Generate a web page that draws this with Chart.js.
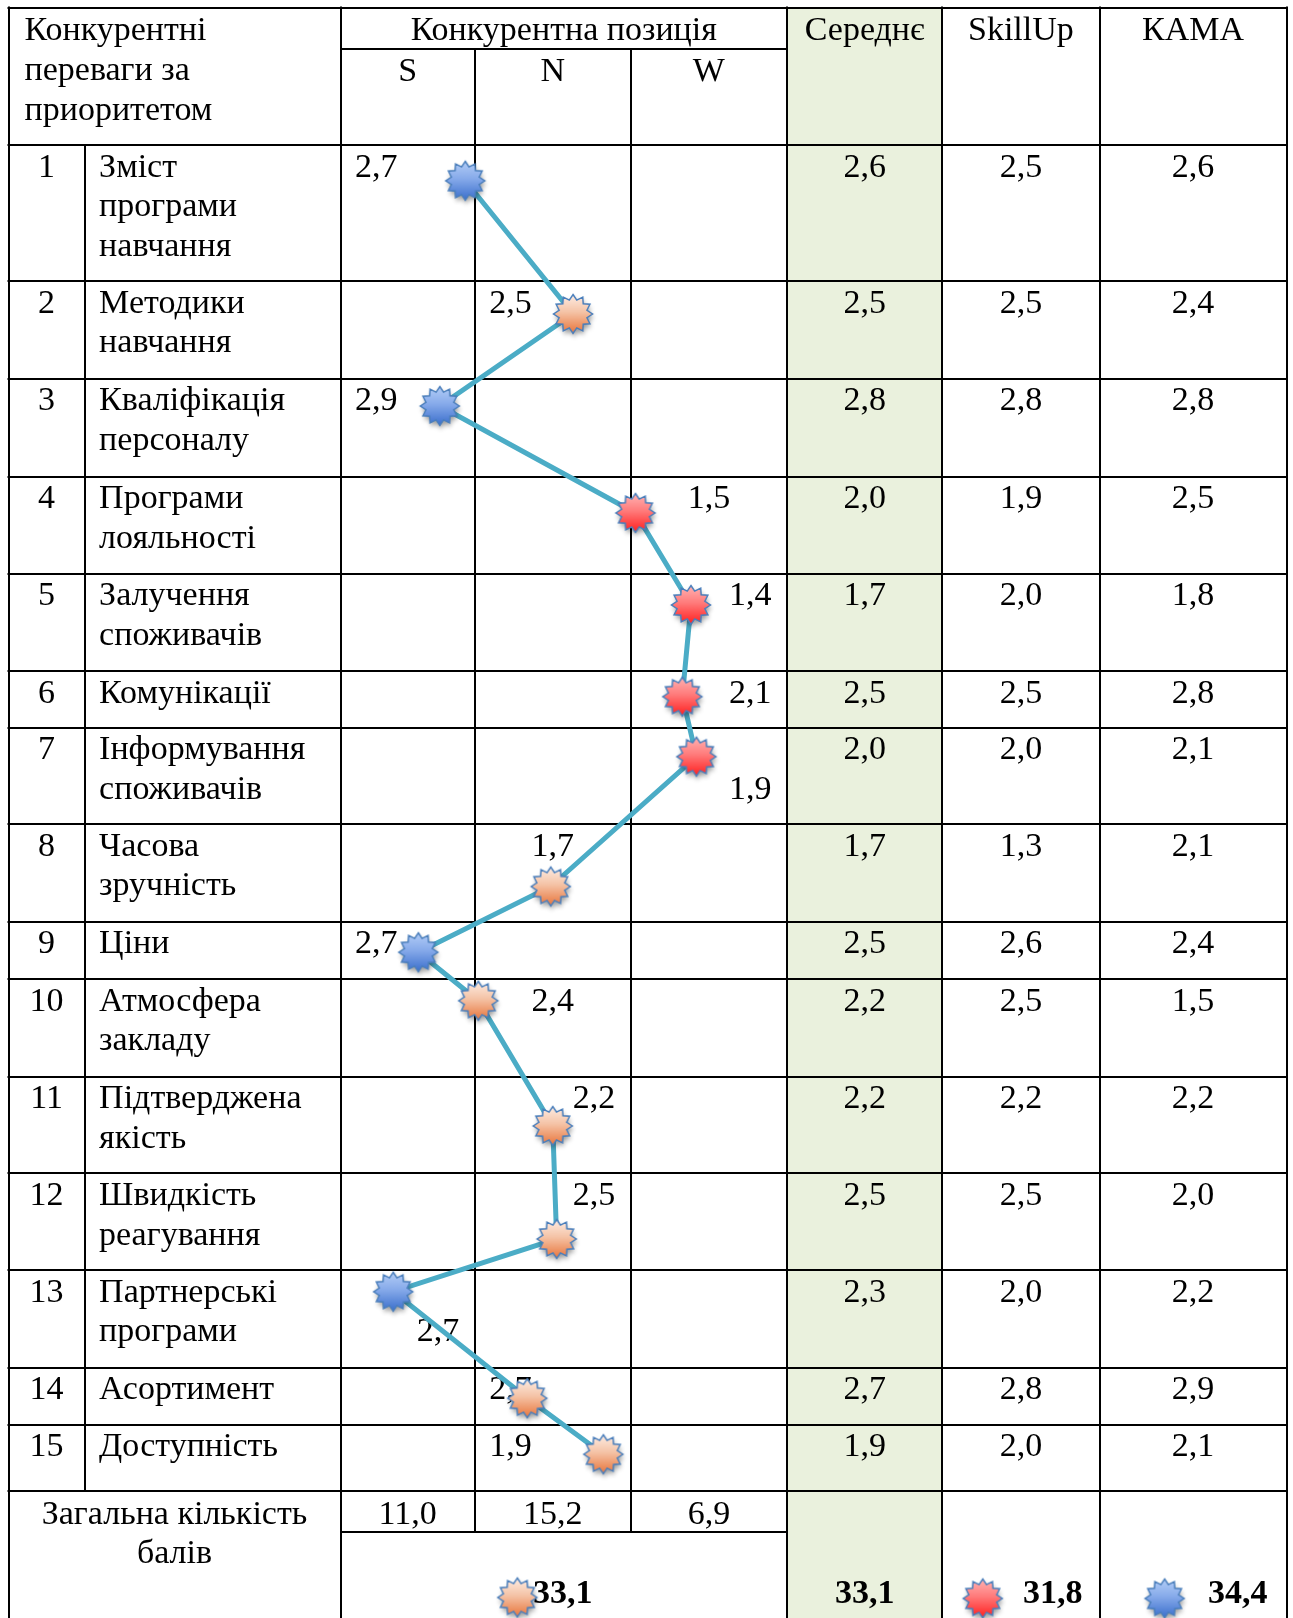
<!DOCTYPE html>
<html lang="uk">
<head>
<meta charset="utf-8">
<title>Конкурентна позиція</title>
<script src="https://cdn.jsdelivr.net/npm/chart.js@4.4.1/dist/chart.umd.min.js"></script>
<style>
  html, body { margin: 0; padding: 0; background: #ffffff; }
  #wrap { width: 1293px; height: 1618px; position: relative; }
  canvas { display: block; }
</style>
</head>
<body>
<div id="wrap"><canvas id="chart" width="1293" height="1618"></canvas></div>
<script>
// ---------- data ----------
const advantages = [
  ['Зміст', 'програми', 'навчання'],
  ['Методики', 'навчання'],
  ['Кваліфікація', 'персоналу'],
  ['Програми', 'лояльності'],
  ['Залучення', 'споживачів'],
  ['Комунікації'],
  ['Інформування', 'споживачів'],
  ['Часова', 'зручність'],
  ['Ціни'],
  ['Атмосфера', 'закладу'],
  ['Підтверджена', 'якість'],
  ['Швидкість', 'реагування'],
  ['Партнерські', 'програми'],
  ['Асортимент'],
  ['Доступність']
];
const zones = ['S', 'N', 'W'];
const positionZone  = ['S', 'N', 'S', 'W', 'W', 'W', 'W', 'N', 'S', 'N', 'N', 'N', 'S', 'N', 'N'];
const positionScore = [2.7, 2.5, 2.9, 1.5, 1.4, 2.1, 1.9, 1.7, 2.7, 2.4, 2.2, 2.5, 2.7, 2.7, 1.9];
const averageScore  = [2.6, 2.5, 2.8, 2.0, 1.7, 2.5, 2.0, 1.7, 2.5, 2.2, 2.2, 2.5, 2.3, 2.7, 1.9];
const skillUpScore  = [2.5, 2.5, 2.8, 1.9, 2.0, 2.5, 2.0, 1.3, 2.6, 2.5, 2.2, 2.5, 2.0, 2.8, 2.0];
const kamaScore     = [2.6, 2.4, 2.8, 2.5, 1.8, 2.8, 2.1, 2.1, 2.4, 1.5, 2.2, 2.0, 2.2, 2.9, 2.1];
const zoneTotals    = [11.0, 15.2, 6.9];
const positionTotal = 33.1;
const averageTotal  = 33.1;
const skillUpTotal  = 31.8;
const kamaTotal     = 34.4;
// where each point sits inside its S/N/W cell (share of cell width / row height)
const pointAcross = [0.93, 0.63, 0.74, 0.03, 0.385, 0.33, 0.42, 0.487, 0.58, 0.023, 0.50, 0.525, 0.393, 0.337, 0.824];
const pointDown   = [0.263, 0.338, 0.281, 0.376, 0.323, 0.453, 0.301, 0.64, 0.534, 0.223, 0.511, 0.679, 0.223, 0.538, 0.446];

// ---------- layout ----------
const W = 1293, H = 1618;
const colEdges = [8.5, 84.6, 340.5, 474.7, 630.8, 787, 942.3, 1099.5, 1286.5];
const tableTop = 7.5, headerMid = 49, headerBottom = 145;
const rowEdges = [145, 281, 378.5, 476.5, 573.5, 671, 727.7, 824, 921.7, 979, 1076.5, 1173.3, 1270, 1367.5, 1424.7, 1491];
const totalMid = 1532;
const FONT = '"Liberation Serif", "Times New Roman", serif';
const FS = 34, LH = 39.7, BASE = 31.6, PAD_L = 14.5, PAD_R = 15.5;
// how the S/N/W score sits in its cell: alignment and text line
const scorePlace = [
  ['left', 0], ['left', 0], ['left', 0], ['center', 0], ['right', 0],
  ['right', 0], ['right', 1], ['center', 0], ['left', 0], ['center', 0],
  ['right', 0], ['right', 0], ['right', 1], ['left', 0], ['left', 0]
];
const zoneCol = { S: 2, N: 3, W: 4 };

const fmt = v => v.toFixed(1).replace('.', ',');

// ---------- star markers ----------
function makeStar(topColor, midColor, bottomColor) {
  const size = 60, c = document.createElement('canvas');
  c.width = size; c.height = size;
  const g = c.getContext('2d');
  const cx = size / 2, cy = size / 2, R = 19.5, r = R * 0.74, n = 12;
  g.beginPath();
  for (let k = 0; k < 2 * n; k++) {
    const a = -Math.PI / 2 + k * Math.PI / n;
    const rad = k % 2 === 0 ? R : r;
    g.lineTo(cx + rad * Math.cos(a), cy + rad * Math.sin(a));
  }
  g.closePath();
  const grad = g.createLinearGradient(0, cy - R, 0, cy + R);
  grad.addColorStop(0, topColor);
  grad.addColorStop(0.45, midColor);
  grad.addColorStop(1, bottomColor);
  g.save();
  g.shadowColor = 'rgba(0,0,0,0.40)';
  g.shadowBlur = 5;
  g.shadowOffsetX = 1;
  g.shadowOffsetY = 3.5;
  g.fillStyle = grad;
  g.fill();
  g.restore();
  g.lineWidth = 1.5;
  g.strokeStyle = '#4A7EBB';
  g.lineJoin = 'miter';
  g.stroke();
  return c;
}
const starImages = {
  S: makeStar('#B3CDF7', '#86AAEA', '#3A6ECC'),
  N: makeStar('#FDEDE4', '#F5C3A6', '#E8743A'),
  W: makeStar('#FFB3B3', '#FF7A7A', '#FF1E1E')
};

// ---------- point coordinates from zone cells and rows ----------
const linePoints = positionZone.map((z, i) => {
  const c = zoneCol[z];
  const x0 = colEdges[c], x1 = colEdges[c + 1];
  const y0 = rowEdges[i], y1 = rowEdges[i + 1];
  return { x: x0 + pointAcross[i] * (x1 - x0), y: y0 + pointDown[i] * (y1 - y0) };
});
// markers beside the bold totals row (zone total, SkillUp, KAMA)
const totalMarkers = [
  { x: colEdges[2] + 0.396 * (colEdges[5] - colEdges[2]), y: totalMid + 65.5, zone: 'N' },
  { x: colEdges[6] + 0.257 * (colEdges[7] - colEdges[6]), y: totalMid + 66.5, zone: 'W' },
  { x: colEdges[7] + 0.348 * (colEdges[8] - colEdges[7]), y: totalMid + 66.5, zone: 'S' }
];

// ---------- table drawn under the datasets ----------
const tablePlugin = {
  id: 'competitiveTable',
  beforeDatasetsDraw(chart) {
    const ctx = chart.ctx;
    ctx.save();
    // green "Середнє" column
    ctx.fillStyle = '#EAF1DD';
    ctx.fillRect(colEdges[5], tableTop, colEdges[6] - colEdges[5], H - tableTop);

    // grid
    ctx.strokeStyle = '#000000';
    ctx.lineWidth = 2;
    const hl = (x0, x1, y) => { ctx.beginPath(); ctx.moveTo(x0, Math.round(y)); ctx.lineTo(x1, Math.round(y)); ctx.stroke(); };
    const vl = (x, y0, y1) => { ctx.beginPath(); ctx.moveTo(Math.round(x), y0); ctx.lineTo(Math.round(x), y1); ctx.stroke(); };
    const L = colEdges[0] - 1, R = colEdges[8] + 1;
    hl(L, R, tableTop);
    hl(colEdges[2], colEdges[5], headerMid);
    rowEdges.forEach(y => hl(L, R, y));
    hl(colEdges[2], colEdges[5], totalMid);
    [0, 2, 5, 6, 7, 8].forEach(i => vl(colEdges[i], tableTop - 1, H));
    vl(colEdges[1], rowEdges[0], rowEdges[rowEdges.length - 1]);
    vl(colEdges[3], headerMid, totalMid);
    vl(colEdges[4], headerMid, totalMid);

    // text
    ctx.fillStyle = '#000000';
    ctx.textBaseline = 'alphabetic';
    const text = (s, x, y, align, bold) => {
      ctx.font = (bold ? 'bold ' : '') + FS + 'px ' + FONT;
      ctx.textAlign = align;
      ctx.fillText(s, x, y);
    };
    const inCell = (s, c, y, align, bold, padR) => {
      const x0 = colEdges[c], x1 = colEdges[c + 1];
      if (align === 'left') text(s, x0 + PAD_L, y, 'left', bold);
      else if (align === 'right') text(s, x1 - (padR || PAD_R), y, 'right', bold);
      else text(s, (x0 + x1) / 2, y, 'center', bold);
    };

    // header
    const hb = tableTop + BASE + 1;
    ['Конкурентні', 'переваги за', 'приоритетом'].forEach((s, k) => text(s, colEdges[0] + 16, hb + k * LH, 'left'));
    text('Конкурентна позиція', (colEdges[2] + colEdges[5]) / 2, hb, 'center');
    zones.forEach((z, k) => inCell(z, 2 + k, headerMid + BASE + 0.5, 'center'));
    inCell('Середнє', 5, hb, 'center');
    inCell('SkillUp', 6, hb, 'center');
    inCell('КАМА', 7, hb, 'center');

    // body rows
    advantages.forEach((lines, i) => {
      const b = rowEdges[i] + BASE;
      inCell(String(i + 1), 0, b, 'center');
      lines.forEach((s, k) => text(s, colEdges[1] + PAD_L, b + k * LH, 'left'));
      const [align, line] = scorePlace[i];
      inCell(fmt(positionScore[i]), zoneCol[positionZone[i]], b + line * LH, align);
      inCell(fmt(averageScore[i]), 5, b, 'center');
      inCell(fmt(skillUpScore[i]), 6, b, 'center');
      inCell(fmt(kamaScore[i]), 7, b, 'center');
    });

    // totals
    const tb = rowEdges[rowEdges.length - 1] + BASE + 1;
    text('Загальна кількість', (colEdges[0] + colEdges[2]) / 2, tb, 'center');
    text('балів', (colEdges[0] + colEdges[2]) / 2, tb + LH, 'center');
    zoneTotals.forEach((v, k) => inCell(fmt(v), 2 + k, tb, 'center'));
    const bb = totalMid + BASE + LH;
    text(fmt(positionTotal), (colEdges[2] + colEdges[5]) / 2 - 1, bb, 'center', true);
    inCell(fmt(averageTotal), 5, bb, 'center', true);
    inCell(fmt(skillUpTotal), 6, bb, 'right', true, 17);
    inCell(fmt(kamaTotal), 7, bb, 'right', true, 19);
    ctx.restore();
  }
};

new Chart(document.getElementById('chart'), {
  type: 'scatter',
  data: {
    datasets: [
      {
        label: 'Конкурентна позиція',
        data: linePoints,
        showLine: true,
        borderColor: '#4BACC6',
        borderWidth: 5,
        tension: 0,
        borderCapStyle: 'butt',
        borderJoinStyle: 'miter',
        pointStyle: ctx => starImages[positionZone[ctx.dataIndex]],
        pointRadius: 20,
        clip: false
      },
      {
        label: 'Загальна кількість балів',
        data: totalMarkers,
        showLine: false,
        pointStyle: ctx => starImages[totalMarkers[ctx.dataIndex].zone],
        pointRadius: 20,
        clip: false
      }
    ]
  },
  options: {
    responsive: false,
    animation: false,
    events: [],
    layout: { padding: 0, autoPadding: false },
    plugins: { legend: { display: false }, tooltip: { enabled: false } },
    scales: {
      x: { type: 'linear', min: 0, max: W, display: false },
      y: { type: 'linear', min: 0, max: H, reverse: true, display: false }
    }
  },
  plugins: [tablePlugin]
});
</script>
</body>
</html>
